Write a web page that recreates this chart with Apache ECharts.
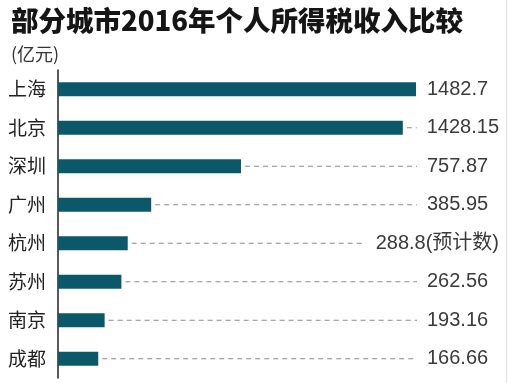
<!DOCTYPE html>
<html><head><meta charset="utf-8">
<script src="https://cdn.jsdelivr.net/npm/echarts@6/dist/echarts.min.js"></script>
<style>html,body{margin:0;padding:0;background:#fff}#c{width:508px;height:383px}</style>
</head><body><div id="c"></div>
<script>
var titleText = '部分城市2016年个人所得税收入比较';
var unitText = '(亿元)';
var cities = ['上海','北京','深圳','广州','杭州','苏州','南京','成都'];
var values = [1482.7, 1428.15, 757.87, 385.95, 288.8, 262.56, 193.16, 166.66];
var valueLabels = ['1482.7','1428.15','757.87','385.95','288.8(预计数)','262.56','193.16','166.66'];
var xMax = 1482.7;

var labelFont = '20px "Liberation Sans", Arial, "Noto Sans CJK SC", sans-serif';
var mctx = document.createElement('canvas').getContext('2d');
function textW(s){ mctx.font = labelFont; return mctx.measureText(s).width; }

var chart = echarts.init(document.getElementById('c'), null, {renderer:'canvas'});
var W = 508;
chart.setOption({
  animation: false,
  backgroundColor: '#fff',
  title: [
    {text: titleText, left: 6, top: 2, textStyle:{fontSize:27.5, fontWeight:900, color:'#151515', fontFamily:'"Noto Sans CJK SC", sans-serif'}},
    {text: unitText, left: 6, top: 40, textStyle:{fontSize:18, fontWeight:'normal', color:'#333', fontFamily:'"Noto Sans CJK SC", sans-serif'}}
  ],
  grid: {left: 58, right: 92, top: 70, bottom: 5, containLabel:false},
  xAxis: {type:'value', min:0, max:xMax, show:false},
  yAxis: {type:'category', data: cities, inverse:true,
    axisLine:{show:true, lineStyle:{color:'#222', width:1.5}},
    axisTick:{show:false},
    axisLabel:{margin:12, fontSize:19, color:'#222', fontFamily:'"Noto Sans CJK SC", sans-serif'}
  },
  graphic: [{type:'line', shape:{x1:506.5, y1:0, x2:506.5, y2:383}, style:{stroke:'#e2e2e2', lineWidth:1}, z:0}],
  series: [
    {type:'bar', data: values, barWidth:14, itemStyle:{color:'#0c586b'}, z:3},
    {type:'custom', z:4,
      data: values.map(function(v,i){return [v,i];}),
      renderItem: function(params, api){
        var i = api.value(1);
        var v = api.value(0);
        var p = api.coord([v, i]);
        var pm = api.coord([xMax, i]);
        var txt = valueLabels[i];
        var tx = pm[0] + 11;
        var tw = textW(txt);
        if (tx + tw > W - 9) tx = W - 9 - tw;
        var dashEnd = tx - 10;
        var children = [];
        if (dashEnd > p[0] + 6) {
          children.push({type:'line', shape:{x1:p[0]+4, y1:p[1], x2:dashEnd, y2:p[1]},
            style:{stroke:'#8a8a8a', lineWidth:1, lineDash:[5,4]}});
        }
        children.push({type:'text', x:tx, y:p[1],
          style:{text:txt, font:labelFont, fill:'#3a3a3a', textAlign:'left', textVerticalAlign:'middle'}});
        return {type:'group', children: children};
      }
    }
  ]
});
</script></body></html>
